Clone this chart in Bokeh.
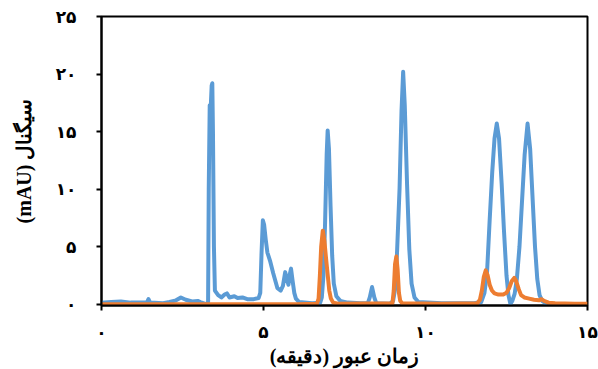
from bokeh.plotting import figure
from bokeh.models import Range1d, FixedTicker
from bokeh.embed import file_html
from bokeh.resources import INLINE

# ---- data ----
blue_t = [0.0, 0.3, 0.6, 0.9, 1.2, 1.4, 1.45, 1.5, 1.9, 2.1, 2.3, 2.45, 2.6, 2.8, 2.97, 3.05,
          3.25, 3.29, 3.31, 3.34, 3.37, 3.40, 3.42, 3.44, 3.47, 3.5, 3.6, 3.7, 3.8, 3.87, 3.95,
          4.1, 4.2, 4.35, 4.5, 4.7, 4.85, 4.9, 4.94, 4.98, 5.02, 5.07, 5.12, 5.2, 5.3, 5.43,
          5.53, 5.6, 5.67, 5.72, 5.77, 5.81, 5.85, 5.9, 5.95, 6.0, 6.1, 6.5, 6.75, 6.8, 6.85,
          6.9, 6.95, 6.98, 7.02, 7.07, 7.12, 7.17, 7.25, 7.37, 7.6, 8.0, 8.22, 8.28, 8.35, 8.42,
          8.48, 8.9, 9.0, 9.06, 9.12, 9.2, 9.26, 9.31, 9.36, 9.43, 9.5, 9.57, 9.66, 9.78, 10.5,
          11.5, 11.72, 11.82, 11.9, 11.98, 12.06, 12.13, 12.2, 12.27, 12.35, 12.42, 12.5, 12.56,
          12.62, 12.68, 12.75, 12.82, 12.9, 12.98, 13.06, 13.15, 13.23, 13.3, 13.38, 13.45,
          13.52, 13.6, 13.75]
blue_v = [0.15, 0.2, 0.25, 0.15, 0.15, 0.15, 0.45, 0.15, 0.1, 0.2, 0.35, 0.6, 0.4, 0.25, 0.3, 0.2,
          0.0, 0.2, 10.0, 17.3, 17.0, 19.0, 19.2, 15.0, 5.0, 1.2, 0.8, 0.6, 0.85, 0.95, 0.6,
          0.7, 0.55, 0.6, 0.45, 0.45, 0.55, 1.0, 4.5, 7.3, 6.9, 5.6, 4.5, 3.8, 2.7, 1.4,
          1.2, 1.6, 2.8, 2.2, 1.7, 2.6, 3.1, 2.0, 1.0, 0.5, 0.2, 0.1, 0.15, 0.6, 2.5,
          7.0, 13.0, 15.1, 13.5, 8.5, 4.2, 1.8, 0.7, 0.3, 0.15, 0.1, 0.1, 0.6, 1.5, 0.6,
          0.1, 0.05, 0.3, 1.3, 4.4, 10.1, 16.8, 20.2, 17.3, 10.5, 4.8, 1.8, 0.6, 0.2, 0.1,
          0.1, 0.2, 1.0, 2.8, 7.3, 11.5, 14.4, 15.7, 14.4, 10.5, 6.5, 2.5, 0.8,
          0.05, 0.3, 0.9, 2.2, 5.0, 9.0, 13.0, 15.7, 13.5, 9.5, 5.0, 2.2,
          0.8, 0.3, 0.0]

orange_t = [0.0, 3.0, 6.0, 6.65, 6.7, 6.74, 6.78, 6.83, 6.88, 6.93, 6.98, 7.03, 7.08, 7.15,
            7.3, 8.98, 9.02, 9.06, 9.1, 9.14, 9.18, 9.22, 9.28, 10.5, 11.6, 11.68, 11.74,
            11.8, 11.86, 11.92, 11.98, 12.05, 12.13, 12.25, 12.4, 12.5, 12.58, 12.66, 12.74,
            12.8, 12.88, 12.95, 13.05, 13.2, 13.35, 13.5, 13.58, 13.66, 13.8, 14.0, 14.3,
            14.6, 15.0]
orange_v = [0.0, 0.0, 0.0, 0.05, 0.5, 2.5, 5.0, 6.4, 5.5, 4.0, 2.6, 1.2, 0.5, 0.15,
            0.05, 0.1, 1.2, 3.5, 4.15, 3.0, 1.0, 0.3, 0.1, 0.05, 0.1, 0.4, 1.2,
            2.4, 2.95, 2.5, 1.7, 1.2, 0.95, 0.85, 0.85, 1.0, 1.4, 2.0, 2.3,
            2.0, 1.3, 0.8, 0.6, 0.5, 0.4, 0.35, 0.45, 0.3, 0.15, 0.1, 0.08,
            0.05, 0.05]

x_ticks = [0, 5, 10, 15]
x_tick_labels = ["۰", "۵", "۱۰", "۱۵"]
y_ticks = [0, 5, 10, 15, 20, 25]
y_tick_labels = ["۰", "۵", "۱۰", "۱۵", "۲۰", "۲۵"]

x_title = "زمان عبور (دقیقه)\u200f"
y_title = "(mAU) سیگنال"

BLUE = "#5B9BD5"
ORANGE = "#ED7D31"

p = figure(width=598, height=369, output_backend="svg", toolbar_location=None,
           x_range=Range1d(0, 15), y_range=Range1d(-0.1, 25),
           min_border_left=101, min_border_right=11, min_border_top=16, min_border_bottom=63)

p.line(blue_t, blue_v, line_color=BLUE, line_width=4, line_join="round")
p.line(orange_t, orange_v, line_color=ORANGE, line_width=4, line_join="round")

p.grid.visible = False
p.outline_line_color = "black"
p.outline_line_width = 2
p.outline_line_alpha = 1

p.xaxis.ticker = FixedTicker(ticks=x_ticks)
p.yaxis.ticker = FixedTicker(ticks=y_ticks)
p.xaxis.major_label_overrides = {t: l for t, l in zip(x_ticks, x_tick_labels)}
p.yaxis.major_label_overrides = {t: l for t, l in zip(y_ticks, y_tick_labels)}

for ax in (p.xaxis[0], p.yaxis[0]):
    ax.axis_line_color = "black"
    ax.axis_line_width = 2
    ax.major_tick_line_color = "black"
    ax.major_tick_line_width = 2
    ax.major_tick_out = 5
    ax.major_tick_in = 0
    ax.minor_tick_line_color = None
    ax.major_label_text_font = "DejaVu Sans"
    ax.major_label_text_font_style = "bold"
    ax.major_label_text_font_size = "17px"
    ax.major_label_text_color = "black"
    ax.axis_label_text_font = "Liberation Serif"
    ax.axis_label_text_font_style = "bold"
    ax.axis_label_text_font_size = "20px"
    ax.axis_label_text_color = "black"

p.xaxis.major_label_standoff = 11
p.yaxis.major_label_standoff = 20
p.xaxis.axis_label = x_title
p.yaxis.axis_label = y_title
p.xaxis.axis_label_standoff = 0
p.yaxis.axis_label_standoff = 18

open("out.html", "w").write(file_html(p, INLINE))
